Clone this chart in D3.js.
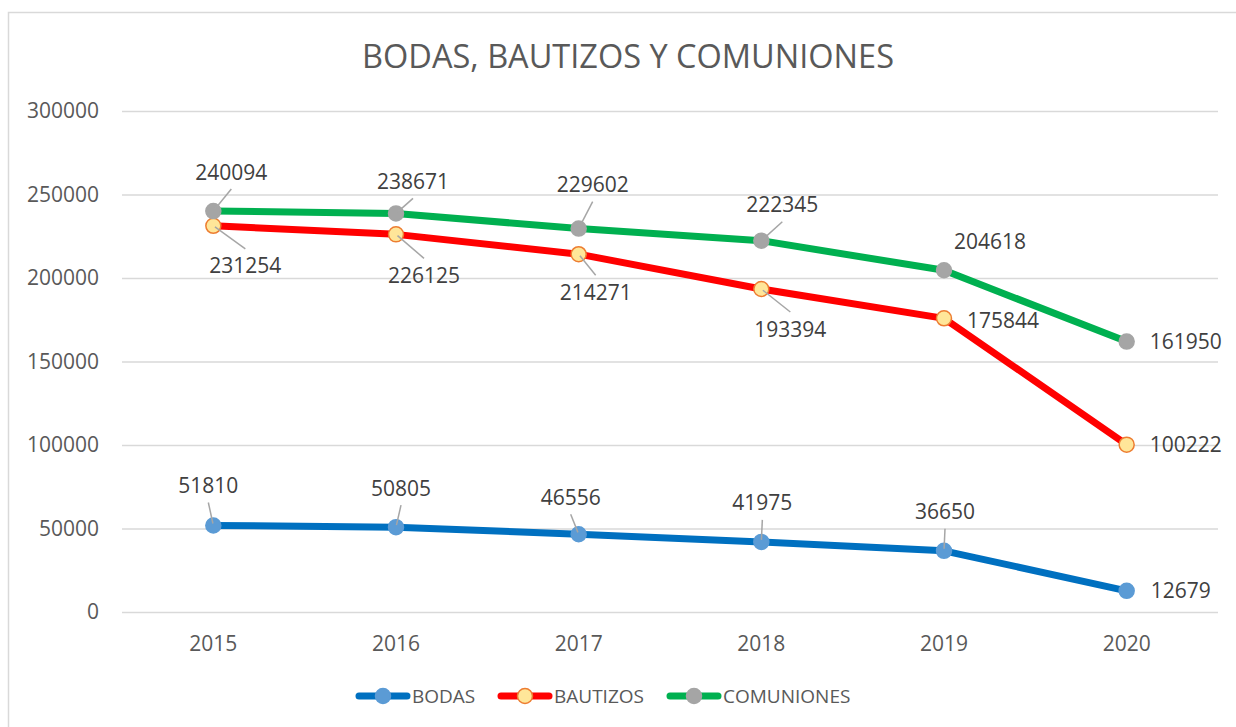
<!DOCTYPE html>
<html>
<head>
<meta charset="utf-8">
<script src="https://cdn.jsdelivr.net/npm/d3@7/dist/d3.min.js"></script>
<style>
    body { margin: 0; background: #fff; }
    svg { display: block; font-family: "Open Sans", "Liberation Sans", sans-serif; }
</style>
</head>
<body>
<div id="chart"></div>
<script>
// data
var years = ["2015", "2016", "2017", "2018", "2019", "2020"];
var bodas = [51810, 50805, 46556, 41975, 36650, 12679];
var bautizos = [231254, 226125, 214271, 193394, 175844, 100222];
var comuniones = [240094, 238671, 229602, 222345, 204618, 161950];
var yTicks = [0, 50000, 100000, 150000, 200000, 250000, 300000];

// label placement: offset of label centre from its point, last flag = draw leader line
var bodasLabelPos = [[-5, -40, 1], [5, -39, 1], [-8, -37, 1], [1, -39, 1], [1, -39, 1], [54, 0, 0]];
var bautizosLabelPos = [[32, 40, 1], [28, 41, 1], [17, 38, 1], [29, 40, 1], [59, 2, 0], [59, 0, 0]];
var comunionesLabelPos = [[18, -39, 1], [17, -32, 1], [14, -44, 1], [21, -36, 1], [46, -29, 0], [59, 0, 0]];

var series = [
    {name: "BODAS", values: bodas, pos: bodasLabelPos, line: "#0070C0", fill: "#5B9BD5", stroke: "#5B9BD5"},
    {name: "BAUTIZOS", values: bautizos, pos: bautizosLabelPos, line: "#FF0000", fill: "#FFE699", stroke: "#ED7D31"},
    {name: "COMUNIONES", values: comuniones, pos: comunionesLabelPos, line: "#00B050", fill: "#A5A5A5", stroke: "#A5A5A5"}
];

var W = 1236, H = 727;
var plot = {left: 122, right: 1218, top: 111, bottom: 612};

var svg = d3.select("#chart").append("svg")
    .attr("width", W)
    .attr("height", H);

// outer chart border (right/bottom fall outside the picture)
svg.append("rect")
    .attr("x", 8.5).attr("y", 12.5)
    .attr("width", 1260).attr("height", 740)
    .attr("fill", "#fff")
    .attr("stroke", "#D9D9D9")
    .attr("stroke-width", 1.5);

svg.append("text")
    .attr("x", 628).attr("y", 68)
    .attr("text-anchor", "middle")
    .style("font-size", "32.5px")
    .style("fill", "#595959")
    .text("BODAS, BAUTIZOS Y COMUNIONES");

var x = d3.scaleBand().domain(years).range([plot.left, plot.right]).padding(0);
var y = d3.scaleLinear().domain([0, 300000]).range([plot.bottom, plot.top]);
var cx = function(d, i){ return x(years[i]) + x.bandwidth() / 2; };

// y axis with gridlines
var yAxis = d3.axisLeft(y).tickValues(yTicks)
    .tickSize(-(plot.right - plot.left)).tickPadding(23)
    .tickFormat(d3.format("d"));
var yG = svg.append("g").attr("transform", "translate(" + plot.left + ",0)").call(yAxis)
    .attr("font-family", null).attr("font-size", null);
yG.select(".domain").remove();
yG.selectAll("line").attr("stroke", "#D9D9D9").attr("stroke-width", 1.5);
yG.selectAll("text").style("font-size", "21px").style("fill", "#595959");

// x axis labels
var xAxis = d3.axisBottom(x).tickSize(0).tickPadding(24);
var xG = svg.append("g").attr("transform", "translate(0," + plot.bottom + ")").call(xAxis)
    .attr("font-family", null).attr("font-size", null);
xG.select(".domain").remove();
xG.selectAll("text").style("font-size", "21px").style("fill", "#595959");

var line = d3.line()
    .x(function(d, i){ return cx(d, i); })
    .y(function(d){ return y(d); });

series.forEach(function(s){
    var g = svg.append("g");
    g.append("path")
        .datum(s.values)
        .attr("d", line)
        .attr("fill", "none")
        .attr("stroke", s.line)
        .attr("stroke-width", 7)
        .attr("stroke-linejoin", "round")
        .attr("stroke-linecap", "round");
    g.selectAll("circle").data(s.values).enter().append("circle")
        .attr("cx", cx)
        .attr("cy", function(d){ return y(d); })
        .attr("r", 7.5)
        .attr("fill", s.fill)
        .attr("stroke", s.stroke)
        .attr("stroke-width", 1.5);
});

// data labels + leader lines
series.forEach(function(s){
    var g = svg.append("g");
    s.values.forEach(function(v, i){
        var px = cx(v, i), py = y(v), p = s.pos[i];
        var lx = px + p[0], ly = py + p[1];
        if (p[2]) {
            var sign = p[1] < 0 ? 1 : -1;
            var ex = lx, ey = ly + sign * 17;
            var dx = ex - px, dy = ey - py, len = Math.sqrt(dx * dx + dy * dy);
            g.append("line")
                .attr("x1", ex).attr("y1", ey)
                .attr("x2", px + dx / len * 2).attr("y2", py + dy / len * 2)
                .attr("stroke", "#A6A6A6")
                .attr("stroke-width", 1.5);
        }
        g.append("text")
            .attr("x", lx).attr("y", ly)
            .attr("dy", "0.36em")
            .attr("text-anchor", "middle")
            .style("font-size", "21px")
            .style("fill", "#404040")
            .text(v);
    });
});

// legend
var legendX = [357, 499, 668];
var legend = svg.append("g").attr("transform", "translate(0,696)");
series.forEach(function(s, i){
    var item = legend.append("g").attr("transform", "translate(" + legendX[i] + ",0)");
    item.append("line")
        .attr("x1", 2).attr("x2", 50).attr("y1", 0).attr("y2", 0)
        .attr("stroke", s.line).attr("stroke-width", 7).attr("stroke-linecap", "round");
    item.append("circle")
        .attr("cx", 26).attr("cy", 0).attr("r", 7.5)
        .attr("fill", s.fill).attr("stroke", s.stroke).attr("stroke-width", 1.5);
    item.append("text")
        .attr("x", 55).attr("y", 0).attr("dy", "0.36em")
        .style("font-size", "19px")
        .style("fill", "#595959")
        .text(s.name);
});
</script>
</body>
</html>
